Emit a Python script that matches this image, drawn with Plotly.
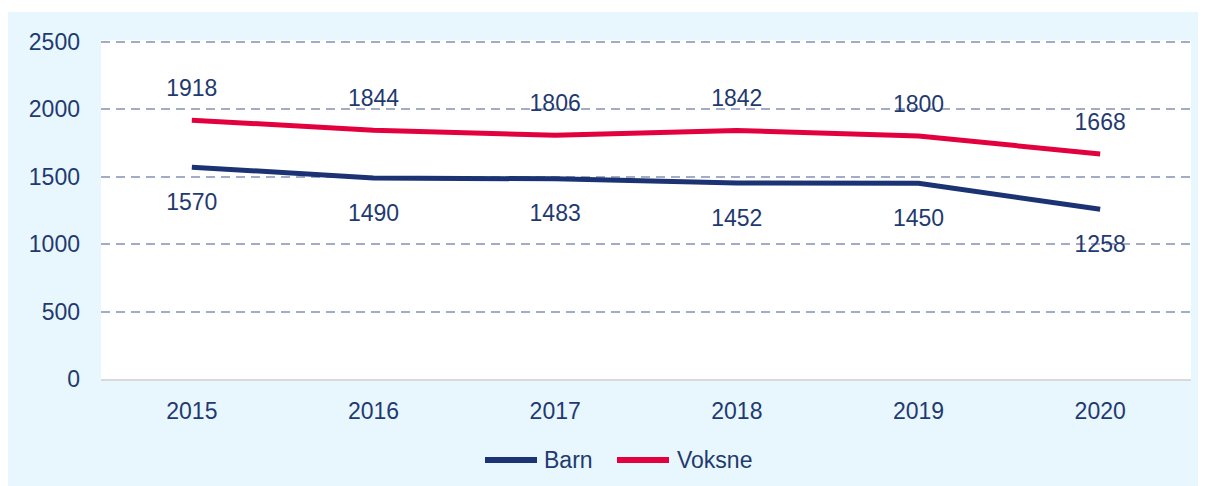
import plotly.graph_objects as go

years = ["2015", "2016", "2017", "2018", "2019", "2020"]
barn = [1570, 1490, 1483, 1452, 1450, 1258]
voksne = [1918, 1844, 1806, 1842, 1800, 1668]
y_ticks = [0, 500, 1000, 1500, 2000, 2500]
series_names = ["Barn", "Voksne"]

NAVY = "#1B3373"
RED = "#E2003F"
TEXT = "#1F3A70"
PANEL = "#E8F6FE"
FONT = "Liberation Sans, Arial, sans-serif"

W, H = 1198, 478
L, R, T, B = 93, 15, 32, 107
PW, PH = W - L - R, H - T - B
YMAX = 2512


def px_x(x):
    return (x - L) / PW


def px_y(y):
    return (T + PH - y) / PH


fig = go.Figure()
fig.add_trace(go.Scatter(x=years, y=barn, name=series_names[0], mode="lines",
                         line=dict(color=NAVY, width=5)))
fig.add_trace(go.Scatter(x=years, y=voksne, name=series_names[1], mode="lines",
                         line=dict(color=RED, width=5)))
# data labels
fig.add_trace(go.Scatter(x=years, y=voksne, mode="markers+text", showlegend=False,
                         hoverinfo="skip", text=[str(v) for v in voksne],
                         textposition="top center",
                         marker=dict(size=28, color="rgba(0,0,0,0)"),
                         textfont=dict(size=23, color=TEXT, family=FONT)))
fig.add_trace(go.Scatter(x=years, y=barn, mode="markers+text", showlegend=False,
                         hoverinfo="skip", text=[str(v) for v in barn],
                         textposition="bottom center",
                         marker=dict(size=39, color="rgba(0,0,0,0)"),
                         textfont=dict(size=23, color=TEXT, family=FONT)))

# custom legend (swatch lines as shapes, labels as annotations)
leg_y = 452
shapes = [
    dict(type="rect", xref="paper", yref="paper", layer="below",
         x0=px_x(-1), x1=px_x(W + 30), y0=px_y(H + 30), y1=px_y(4),
         fillcolor=PANEL, line=dict(width=0)),
    dict(type="rect", xref="paper", yref="paper", layer="below",
         x0=0, x1=1, y0=0, y1=1, fillcolor="white", line=dict(width=0)),
]
for (x0, x1, col) in [(477, 529, NAVY), (609, 661, RED)]:
    shapes.append(dict(type="line", xref="paper", yref="paper",
                       x0=px_x(x0), x1=px_x(x1), y0=px_y(leg_y), y1=px_y(leg_y),
                       line=dict(color=col, width=6)))
for name, xt in zip(series_names, [534, 667]):
    fig.add_annotation(xref="paper", yref="paper", x=px_x(xt), y=px_y(leg_y),
                       xanchor="left", yanchor="middle", text=name, showarrow=False,
                       font=dict(size=23, color=TEXT, family=FONT))

fig.update_layout(
    width=W, height=H,
    autosize=False,
    margin=dict(l=L, r=R, t=T, b=B, autoexpand=False),
    paper_bgcolor="white",
    plot_bgcolor="white",
    font=dict(family=FONT, size=23, color=TEXT),
    showlegend=False,
    shapes=shapes,
    xaxis=dict(type="category", range=[-0.5, 5.5], showgrid=False,
               showline=True, linecolor="#D9D9D9", linewidth=2,
               ticks="", ticklabelstandoff=10,
               tickfont=dict(size=23, color=TEXT, family=FONT)),
    yaxis=dict(range=[0, YMAX], tickvals=y_ticks, showgrid=True,
               gridcolor="#A3ACC6", gridwidth=2, griddash="9px,6px",
               zeroline=False, showline=False, ticks="",
               ticklabelstandoff=20,
               tickfont=dict(size=23, color=TEXT, family=FONT)),
)

fig.write_html("out.html")
